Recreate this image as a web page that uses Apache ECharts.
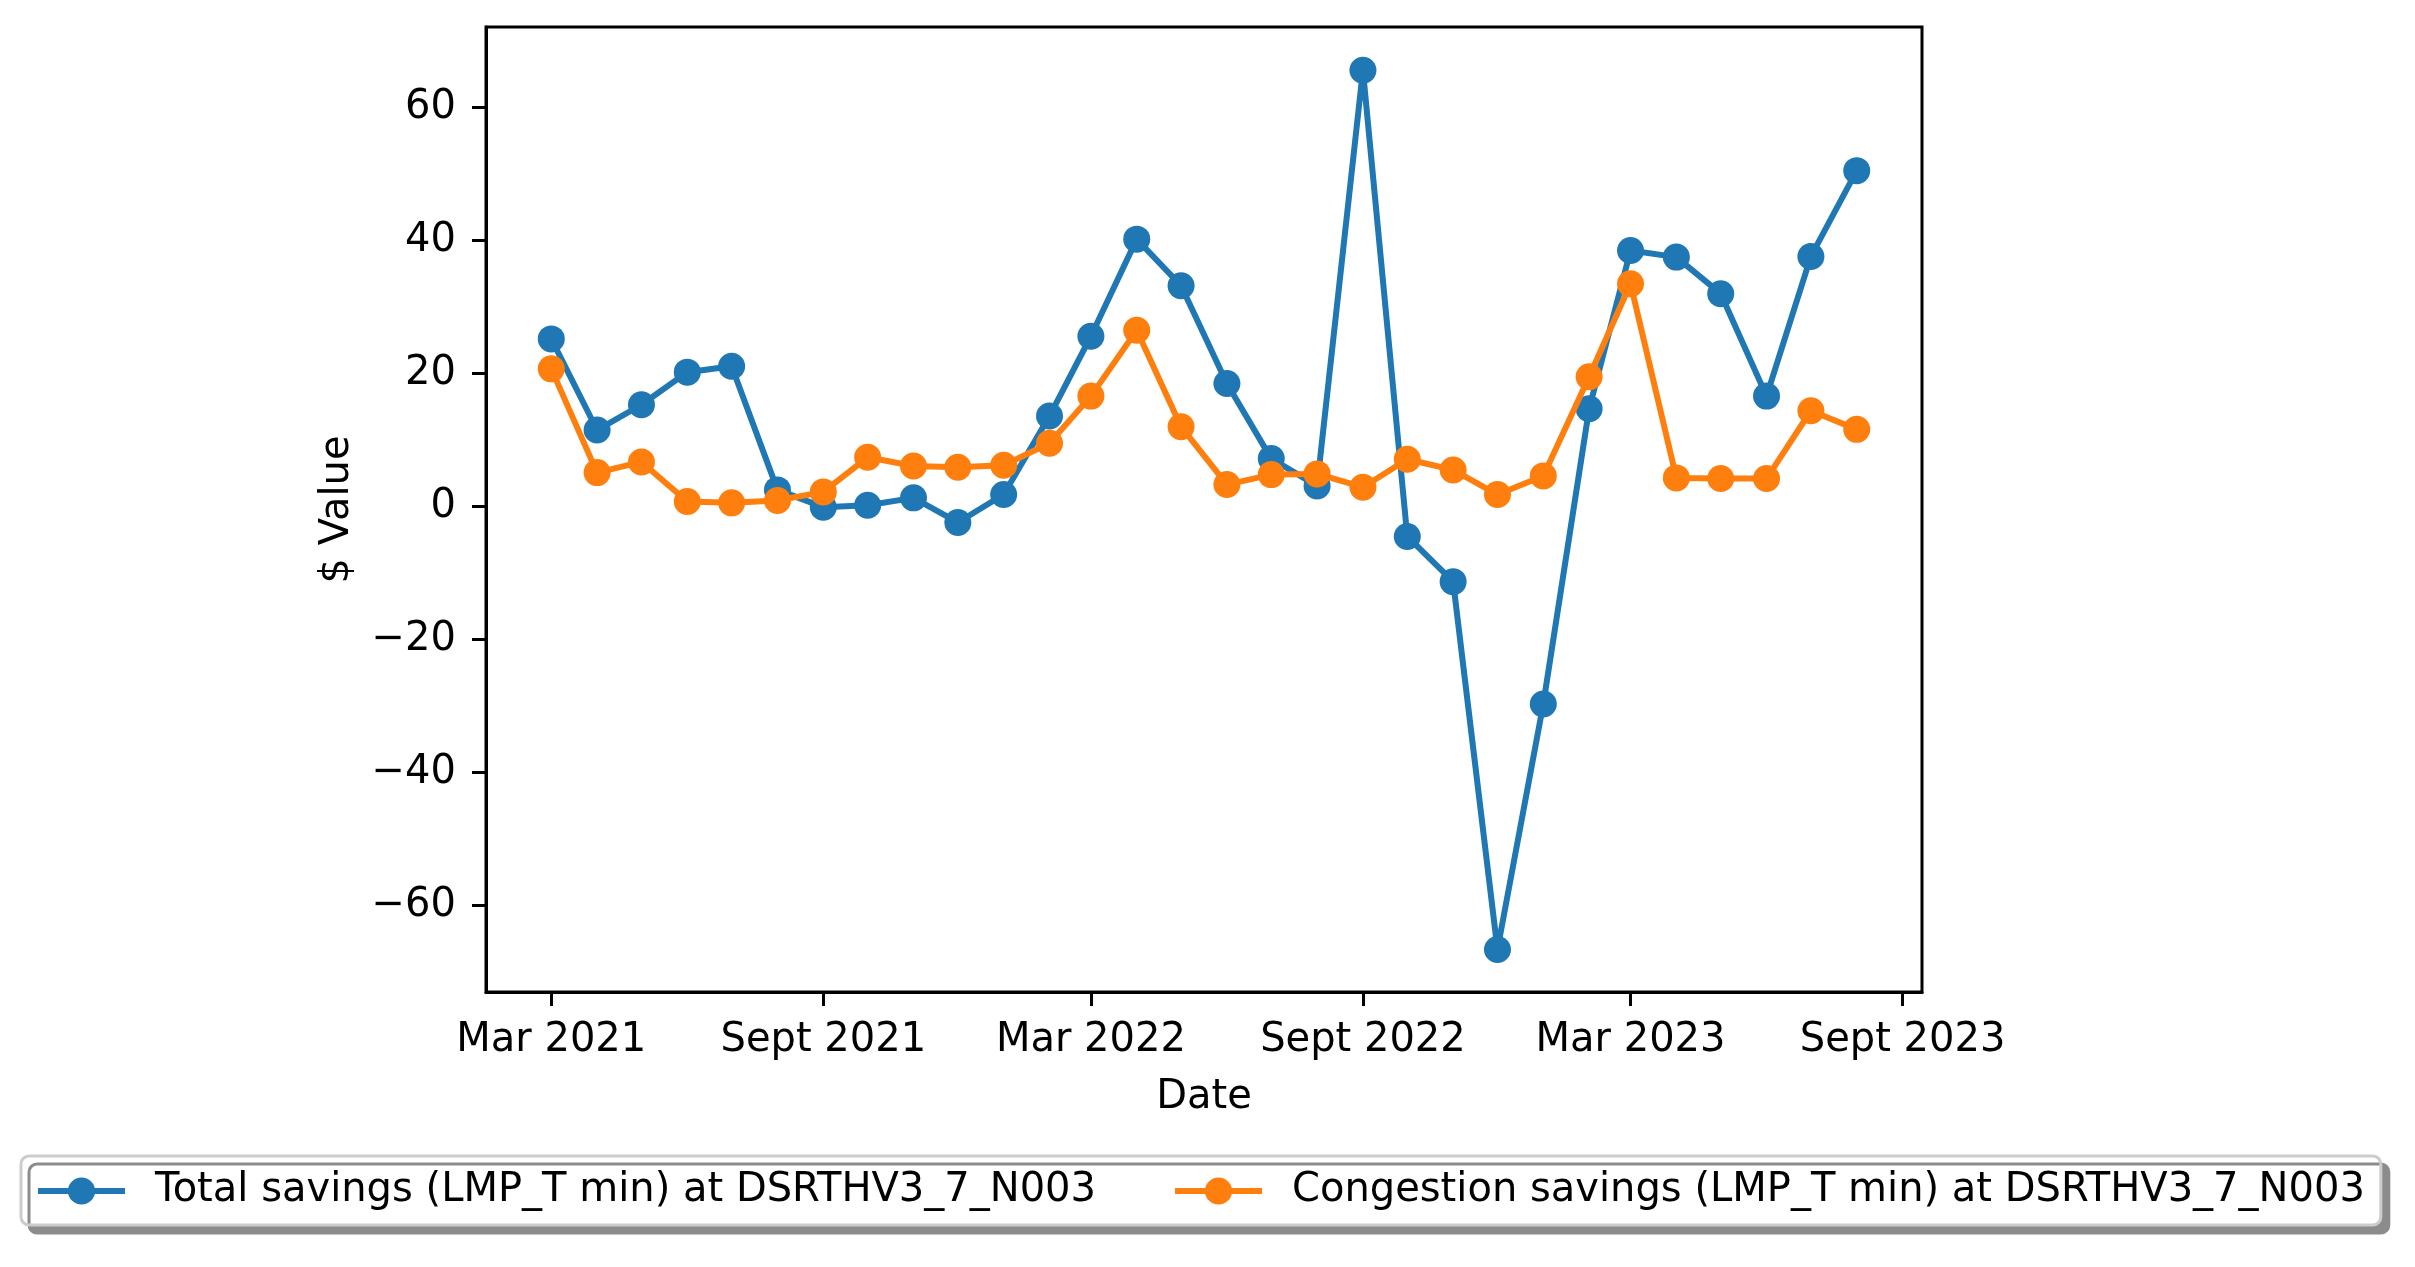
<!DOCTYPE html>
<html>
<head>
<meta charset="utf-8">
<script src="https://cdn.jsdelivr.net/npm/echarts@6/dist/echarts.min.js"></script>
<style>html,body{margin:0;padding:0;background:#fff}#c{width:2415px;height:1267px}</style>
</head>
<body>
<div id="c"></div>
<script>
// Months (first of month), Mar 2021 .. Aug 2023
const months = ['2021-03','2021-04','2021-05','2021-06','2021-07','2021-08','2021-09','2021-10','2021-11','2021-12',
  '2022-01','2022-02','2022-03','2022-04','2022-05','2022-06','2022-07','2022-08','2022-09','2022-10','2022-11','2022-12',
  '2023-01','2023-02','2023-03','2023-04','2023-05','2023-06','2023-07','2023-08'];
const totalSavings = [25.2, 11.5, 15.3, 20.2, 21.1, 2.5, -0.1, 0.2, 1.3, -2.4,
  1.8, 13.6, 25.6, 40.2, 33.2, 18.5, 7.2, 3.1, 65.6, -4.5, -11.3, -66.6,
  -29.7, 14.7, 38.5, 37.5, 32.0, 16.6, 37.6, 50.5];
const congestionSavings = [20.7, 5.1, 6.7, 0.75, 0.55, 0.9, 2.2, 7.4, 6.1, 5.9,
  6.2, 9.5, 16.6, 26.5, 12.0, 3.3, 4.8, 4.9, 2.9, 7.1, 5.5, 1.8,
  4.6, 19.5, 33.5, 4.3, 4.2, 4.2, 14.4, 11.6];
const xTickMonths = ['2021-03','2021-09','2022-03','2022-09','2023-03','2023-09'];
const xTickLabels = ['Mar 2021','Sept 2021','Mar 2022','Sept 2022','Mar 2023','Sept 2023'];
const yTicks = [-60, -40, -20, 0, 20, 40, 60];
const seriesNames = ['Total savings (LMP_T min) at DSRTHV3_7_N003', 'Congestion savings (LMP_T min) at DSRTHV3_7_N003'];

function ts(m){ const p = m.split('-'); return Date.UTC(+p[0], +p[1]-1, 1); }
const first = ts(months[0]), last = ts(months[months.length-1]);
const margin = (last - first) * 0.05;
const xTickVals = xTickMonths.map(ts);

const chart = echarts.init(document.getElementById('c'));
const font = 'DejaVu Sans';
chart.setOption({
  animation: false,
  backgroundColor: '#fff',
  textStyle: { fontFamily: font },
  grid: { left: 486, right: 493, top: 27, bottom: 275, show: true, borderColor: '#000', borderWidth: 3, containLabel: false },
  legend: {
    left: 21, top: 1156,
    orient: 'horizontal',
    itemWidth: 87, itemHeight: 34, itemGap: 76,
    padding: [15, 16, 14, 14],
    backgroundColor: '#fff',
    borderColor: '#cccccc', borderWidth: 3, borderRadius: 8,
    shadowColor: '#8c8c8c', shadowBlur: 0, shadowOffsetX: 8, shadowOffsetY: 8,
    lineStyle: { width: 6 },
    textStyle: { fontFamily: font, fontSize: 40, color: '#000', padding: [0, 0, 0, 25] },
    data: seriesNames
  },
  xAxis: {
    type: 'value',
    min: first - margin, max: last + margin,
    name: 'Date', nameLocation: 'middle', nameGap: 86,
    nameTextStyle: { fontFamily: font, fontSize: 40, color: '#000' },
    axisLine: { show: true, onZero: false, lineStyle: { color: '#000', width: 3 } },
    axisTick: { show: true, length: 14, lineStyle: { color: '#000', width: 3 }, customValues: xTickVals },
    axisLabel: { show: true, fontFamily: font, fontSize: 40, color: '#000', margin: 29, customValues: xTickVals,
      formatter: function(v){ const i = xTickVals.indexOf(v); return i >= 0 ? xTickLabels[i] : ''; } },
    splitLine: { show: false }
  },
  yAxis: {
    type: 'value',
    min: -73, max: 72.1,
    name: '$ Value', nameLocation: 'middle', nameGap: 128, nameRotate: 90,
    nameTextStyle: { fontFamily: font, fontSize: 40, color: '#000' },
    axisLine: { show: true, onZero: false, lineStyle: { color: '#000', width: 3 } },
    axisTick: { show: true, length: 14, lineStyle: { color: '#000', width: 3 }, customValues: yTicks },
    axisLabel: { show: true, fontFamily: font, fontSize: 40, color: '#000', margin: 30, customValues: yTicks,
      formatter: function(v){ return v < 0 ? '\u2212' + Math.abs(v) : String(v); } },
    splitLine: { show: false }
  },
  series: [
    { name: seriesNames[0], type: 'line', data: months.map((m,i)=>[ts(m), totalSavings[i]]),
      symbol: 'circle', symbolSize: 27, itemStyle: { color: '#1f77b4' },
      lineStyle: { color: '#1f77b4', width: 6 }, z: 2 },
    { name: seriesNames[1], type: 'line', data: months.map((m,i)=>[ts(m), congestionSavings[i]]),
      symbol: 'circle', symbolSize: 27, itemStyle: { color: '#ff7f0e' },
      lineStyle: { color: '#ff7f0e', width: 6 }, z: 3 }
  ]
});
</script>
</body>
</html>
